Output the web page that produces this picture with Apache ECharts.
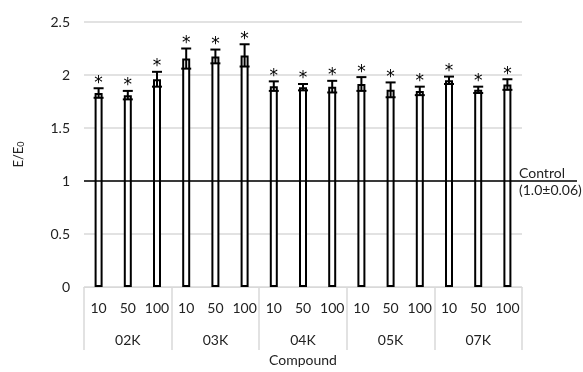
<!DOCTYPE html>
<html><head><meta charset="utf-8">
<script src="https://cdn.jsdelivr.net/npm/echarts@6/dist/echarts.min.js"></script>
<style>html,body{margin:0;padding:0;background:#fff}#c{width:583px;height:372px}</style>
</head><body><div id="c"></div>
<script>
var groups = ['02K', '03K', '04K', '05K', '07K'];
var doses = ['10', '50', '100'];
var means = [1.83, 1.81, 1.96, 2.155, 2.175, 2.185, 1.895, 1.885, 1.89, 1.915, 1.86, 1.85, 1.95, 1.86, 1.91];
var errs = [0.045, 0.04, 0.07, 0.095, 0.065, 0.105, 0.045, 0.03, 0.055, 0.065, 0.07, 0.04, 0.035, 0.03, 0.05];
var yTicks = [0, 0.5, 1, 1.5, 2, 2.5];
var controlValue = 1.0;
var controlLabel = ['Control', '(1.0\u00b10.06)'];

var FONT = 'Lato';
var cats = [];
groups.forEach(function (g) { doses.forEach(function (d) { cats.push(g + '|' + d); }); });
var errData = means.map(function (m, i) { return [i, m - errs[i], m + errs[i]]; });

var chart = echarts.init(document.getElementById('c'), null, {renderer: 'canvas'});
chart.setOption({
  animation: false,
  textStyle: {fontFamily: FONT},
  grid: {left: 84, right: 61, top: 22, bottom: 80},
  xAxis: [{
    type: 'category', data: cats, gridIndex: 0, position: 'bottom',
    axisLine: {lineStyle: {color: '#d9d9d9', width: 1}},
    axisTick: {show: false},
    axisLabel: {interval: 0, margin: 14, fontSize: 14, color: '#222', fontFamily: FONT,
      formatter: function (v) { return v.split('|')[1]; }}
  }, {
    type: 'category', data: groups, gridIndex: 0, position: 'bottom',
    axisLine: {show: false},
    axisTick: {show: true, interval: 0, length: 63, lineStyle: {color: '#d9d9d9', width: 1.5}},
    axisLabel: {interval: 0, margin: 46, fontSize: 14, color: '#222', fontFamily: FONT},
    name: 'Compound', nameLocation: 'middle', nameGap: 66,
    nameTextStyle: {fontSize: 14, color: '#222', fontFamily: FONT}
  }],
  yAxis: {
    type: 'value', min: 0, max: 2.5, interval: 0.5,
    axisLine: {show: false}, axisTick: {show: false},
    splitLine: {lineStyle: {color: '#d9d9d9', width: 1.5}},
    axisLabel: {fontSize: 14, color: '#222', margin: 14, fontFamily: FONT,
      formatter: function (v) { return yTicks.indexOf(v) >= 0 ? String(v) : ''; }},
    name: '{a|E/E}{b|0}', nameLocation: 'middle', nameRotate: 90, nameGap: 58,
    nameTextStyle: {
      rich: {
        a: {fontSize: 13, color: '#222', fontFamily: FONT},
        b: {fontSize: 9, color: '#222', fontFamily: FONT, padding: [6, 0, 0, 0]}
      }
    }
  },
  series: [{
    type: 'bar', data: means, barWidth: 8, xAxisIndex: 0,
    itemStyle: {color: '#fff', borderColor: '#000', borderWidth: 2},
    z: 2
  }, {
    type: 'custom', xAxisIndex: 0, data: errData, z: 3,
    renderItem: function (params, api) {
      var x = api.value(0);
      var lo = api.coord([x, api.value(1)]);
      var hi = api.coord([x, api.value(2)]);
      var hw = 5;
      var st = {stroke: '#000', lineWidth: 2};
      return {type: 'group', children: [
        {type: 'line', shape: {x1: hi[0], y1: hi[1], x2: lo[0], y2: lo[1]}, style: st},
        {type: 'line', shape: {x1: hi[0] - hw, y1: hi[1], x2: hi[0] + hw, y2: hi[1]}, style: st},
        {type: 'line', shape: {x1: lo[0] - hw, y1: lo[1], x2: lo[0] + hw, y2: lo[1]}, style: st},
        {type: 'text', style: {text: '*', x: hi[0], y: hi[1] - 5, align: 'center',
          verticalAlign: 'middle', fontSize: 17, fontFamily: 'DejaVu Sans', fill: '#000'}}
      ]};
    }
  }, {
    type: 'custom', xAxisIndex: 0, data: [[0, controlValue]], z: 5, clip: false,
    renderItem: function (params, api) {
      var p = api.coord([0, api.value(1)]);
      var x0 = params.coordSys.x;
      var x1 = api.getWidth() - 6;
      return {type: 'group', children: [
        {type: 'line', shape: {x1: x0, y1: p[1], x2: x1, y2: p[1]}, style: {stroke: '#000', lineWidth: 1.5}},
        {type: 'text', style: {text: controlLabel[0], x: 519, y: p[1] - 1, align: 'left', verticalAlign: 'bottom',
          fontSize: 14, fontFamily: FONT, fill: '#222'}},
        {type: 'text', style: {text: controlLabel[1], x: 519, y: p[1] + 2, align: 'left', verticalAlign: 'top',
          fontSize: 14, fontFamily: FONT, fill: '#222'}}
      ]};
    }
  }]
});
</script></body></html>
